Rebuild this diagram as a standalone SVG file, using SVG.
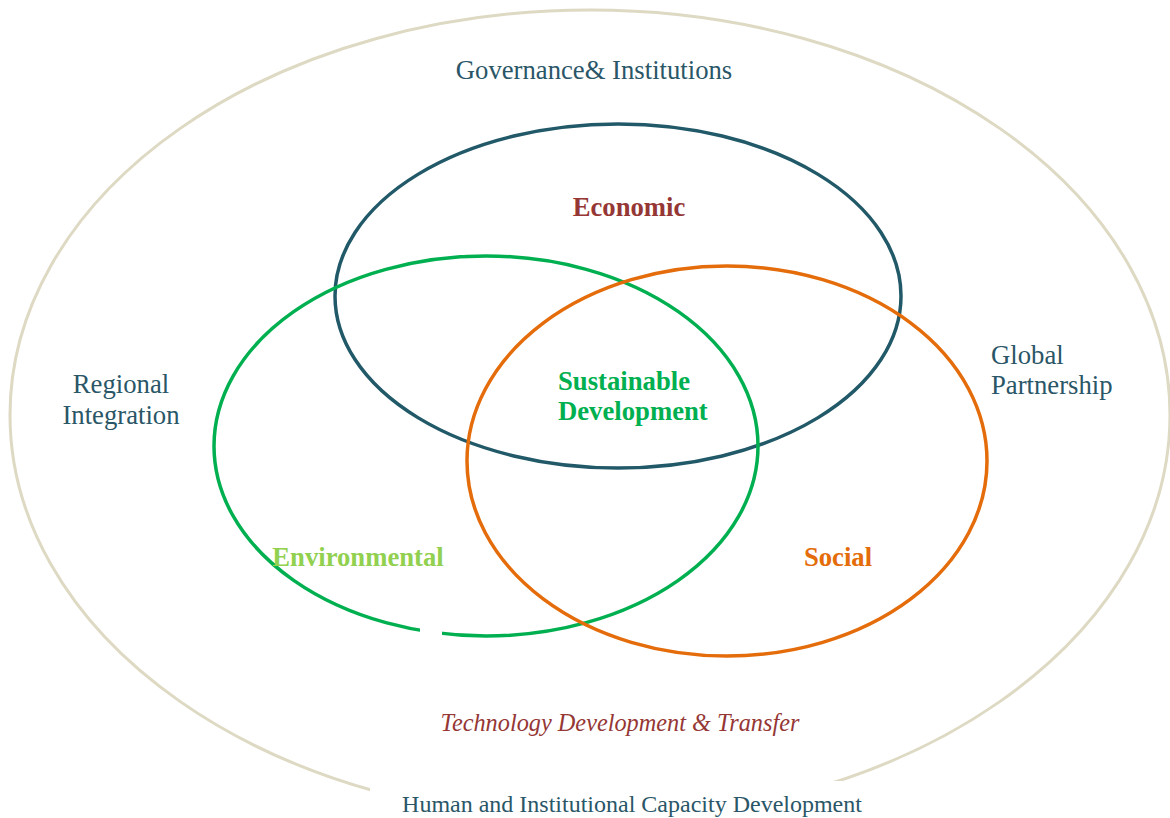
<svg xmlns="http://www.w3.org/2000/svg" width="1170" height="818" viewBox="0 0 1170 818">
<style>
.lbl{font-family:"Liberation Serif",serif;fill:#2a5667;font-size:26.7px}
.b{font-family:"Liberation Serif",serif;font-weight:bold;font-size:26.7px}
.ring{fill:none}
</style>
<rect width="1170" height="818" fill="#ffffff"/>
<g id="outer">
<ellipse class="ring" cx="590" cy="415" rx="580" ry="405" stroke="#ddd9c3" stroke-width="3"/>
<rect x="370" y="781" width="486" height="37" fill="#ffffff"/>
</g>
<g id="economic">
<ellipse class="ring" cx="618" cy="296" rx="283" ry="172" stroke="#215968" stroke-width="3.5"/>
<text class="b" x="629" y="216" text-anchor="middle" fill="#953735">Economic</text>
</g>
<g id="environmental">
<ellipse class="ring" cx="486" cy="446" rx="272" ry="190" stroke="#00b050" stroke-width="3.5"/>
<rect x="420" y="628" width="22" height="12" fill="#ffffff"/>
<text class="b" x="358" y="566" text-anchor="middle" fill="#92d050">Environmental</text>
</g>
<g id="social">
<ellipse class="ring" cx="727" cy="461" rx="260" ry="195" stroke="#e46c0a" stroke-width="3.5"/>
<text class="b" x="838" y="566" text-anchor="middle" fill="#e46c0a">Social</text>
</g>
<g id="sustainable">
<text class="b" x="558" y="390" fill="#00b050">Sustainable</text>
<text class="b" x="558" y="420" fill="#00b050">Development</text>
</g>
<g id="labels">
<text class="lbl" x="594" y="79" text-anchor="middle">Governance&amp; Institutions</text>
<text class="lbl" x="121" y="393" text-anchor="middle">Regional</text>
<text class="lbl" x="121" y="424" text-anchor="middle">Integration</text>
<text class="lbl" x="991" y="364">Global</text>
<text class="lbl" x="991" y="394">Partnership</text>
<text x="620" y="731" text-anchor="middle" font-family="Liberation Serif,serif" font-style="italic" font-size="24.3" fill="#953735">Technology Development &amp; Transfer</text>
<text x="632" y="812" text-anchor="middle" font-family="Liberation Serif,serif" font-size="24" fill="#2a5667">Human and Institutional Capacity Development</text>
</g>
<g id="connectors"></g>
</svg>
